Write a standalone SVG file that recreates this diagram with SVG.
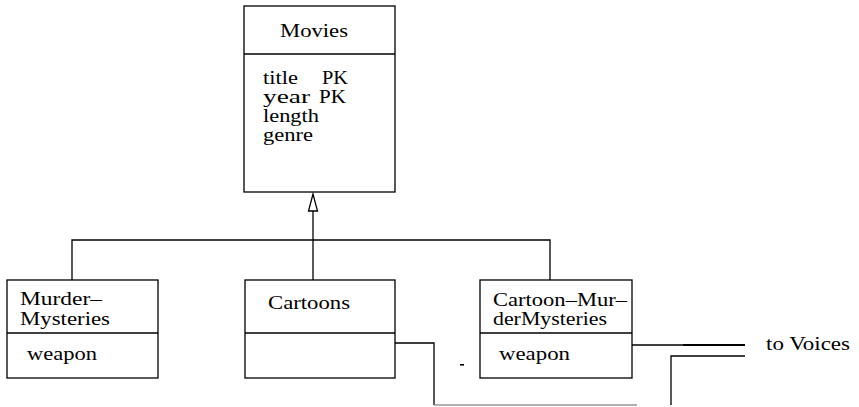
<svg xmlns="http://www.w3.org/2000/svg" width="859" height="407" viewBox="0 0 859 407">
<style>
.box{fill:#fff;stroke:#000;stroke-width:1.3}
.ln{fill:none;stroke:#000;stroke-width:1.3}
text{font-family:"Liberation Serif","Times New Roman",serif;font-size:19px;fill:#000}
</style>
<rect width="859" height="407" fill="#fff"/>
<g id="connectors">
<path class="ln" d="M72,280 V240 H550 V280"/>
<path class="ln" d="M313,280 V211"/>
<polygon points="313,194 308.5,211 317.5,211" fill="#fff" stroke="#000" stroke-width="1.3"/>
<path class="ln" d="M395,343 H434 V405"/>
<path d="M434,405 H637" fill="none" stroke="#999" stroke-width="1.3"/>
<path class="ln" d="M632,345 H745"/>
<path d="M683,345 H745" fill="none" stroke="#000" stroke-width="2"/>
<path class="ln" d="M671,405 V356 H745"/>
<rect x="460" y="364" width="4" height="1.6" fill="#000"/>
</g>
<g id="movies">
<rect class="box" x="244" y="6" width="151" height="186"/>
<line class="ln" x1="244" y1="54" x2="395" y2="54"/>
<text x="280" y="37" textLength="68" lengthAdjust="spacingAndGlyphs">Movies</text>
<text x="263" y="84" textLength="35" lengthAdjust="spacingAndGlyphs">title</text><text x="322" y="84" textLength="26" lengthAdjust="spacingAndGlyphs">PK</text>
<text x="263" y="103" textLength="47" lengthAdjust="spacingAndGlyphs">year</text><text x="319" y="103" textLength="27" lengthAdjust="spacingAndGlyphs">PK</text>
<text x="263" y="122" textLength="56" lengthAdjust="spacingAndGlyphs">length</text>
<text x="263" y="141" textLength="50" lengthAdjust="spacingAndGlyphs">genre</text>
</g>
<g id="murder-mysteries">
<rect class="box" x="7" y="280" width="151" height="98"/>
<line class="ln" x1="7" y1="333" x2="158" y2="333"/>
<text x="20" y="305" textLength="82" lengthAdjust="spacingAndGlyphs">Murder–</text>
<text x="20" y="325" textLength="90" lengthAdjust="spacingAndGlyphs">Mysteries</text>
<text x="27" y="360" textLength="70" lengthAdjust="spacingAndGlyphs">weapon</text>
</g>
<g id="cartoons">
<rect class="box" x="245" y="280" width="150" height="98"/>
<line class="ln" x1="245" y1="333" x2="395" y2="333"/>
<text x="268" y="309" textLength="82" lengthAdjust="spacingAndGlyphs">Cartoons</text>
</g>
<g id="cartoon-murdermysteries">
<rect class="box" x="480" y="280" width="152" height="98"/>
<line class="ln" x1="480" y1="333" x2="632" y2="333"/>
<text x="493" y="306" textLength="134" lengthAdjust="spacingAndGlyphs">Cartoon–Mur–</text>
<text x="493" y="325" textLength="114" lengthAdjust="spacingAndGlyphs">derMysteries</text>
<text x="499" y="360" textLength="71" lengthAdjust="spacingAndGlyphs">weapon</text>
</g>
<g id="voices">
<text x="766" y="350" textLength="84" lengthAdjust="spacingAndGlyphs">to Voices</text>
</g>
</svg>
